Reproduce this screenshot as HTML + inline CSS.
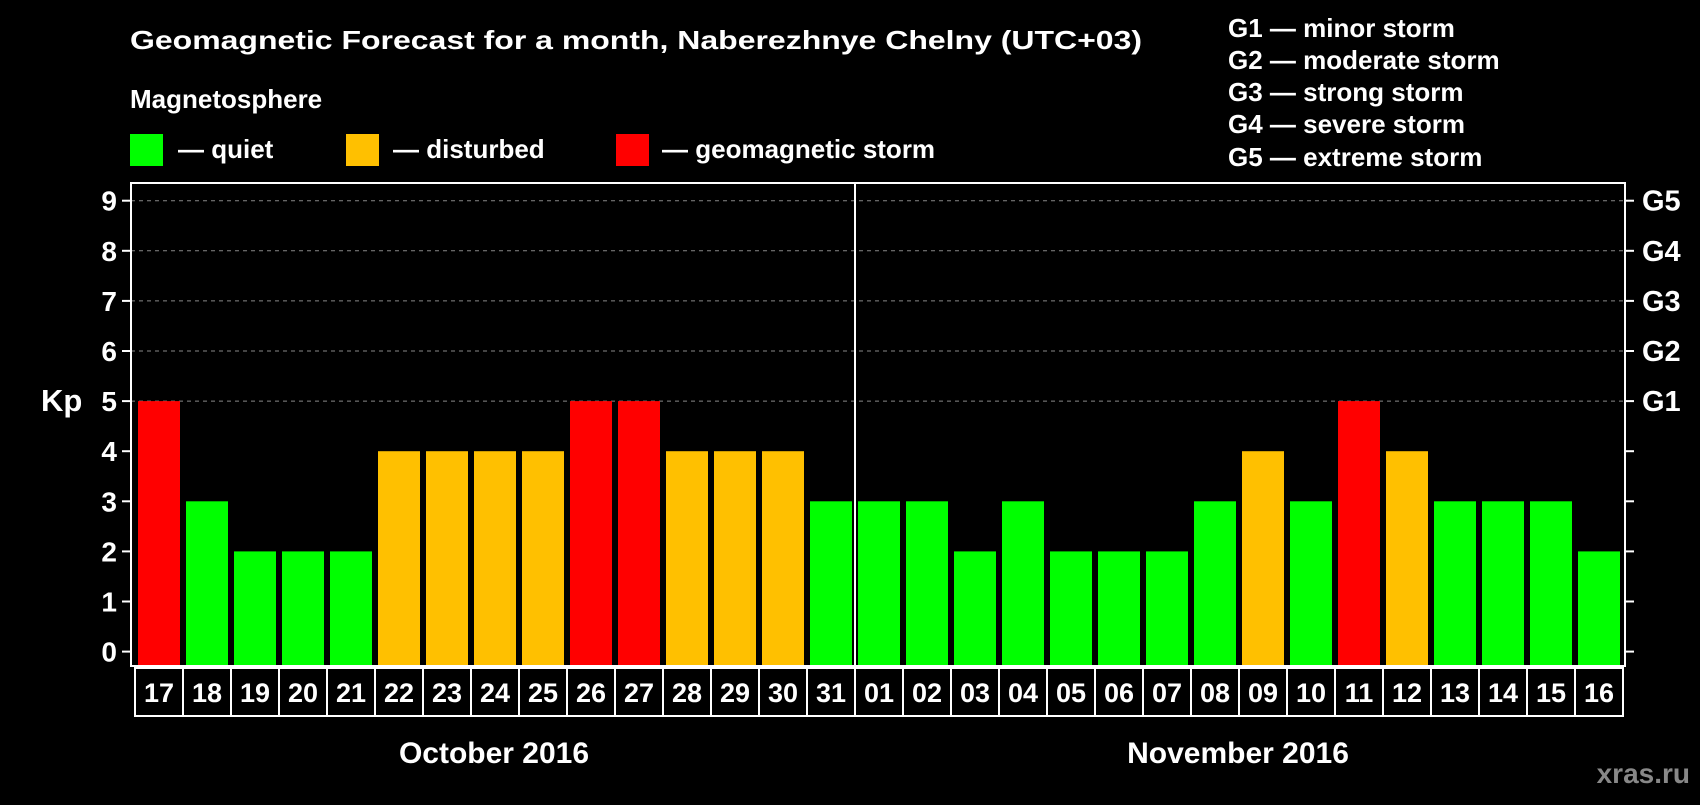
<!DOCTYPE html>
<html><head><meta charset="utf-8"><style>
body{margin:0;background:#000;}
svg text{font-family:"Liberation Sans",Arial,sans-serif;font-weight:bold;fill:#fff;}
</style></head><body>
<svg id="chart" width="1700" height="800" xmlns="http://www.w3.org/2000/svg">
<rect width="1700" height="800" fill="#000"/>
<text x="130" y="49" font-size="26" textLength="1012" lengthAdjust="spacingAndGlyphs">Geomagnetic Forecast for a month, Naberezhnye Chelny (UTC+03)</text>
<text x="130" y="108" font-size="26">Magnetosphere</text>
<rect x="130" y="134" width="33" height="32" fill="#00ff00"/>
<text x="178" y="158" font-size="26">— quiet</text>
<rect x="346" y="134" width="33" height="32" fill="#ffc000"/>
<text x="393" y="158" font-size="26">— disturbed</text>
<rect x="616" y="134" width="33" height="32" fill="#ff0000"/>
<text x="662" y="158" font-size="26">— geomagnetic storm</text>
<g font-size="26">
<text x="1228" y="37">G1 — minor storm</text>
<text x="1228" y="69">G2 — moderate storm</text>
<text x="1228" y="101">G3 — strong storm</text>
<text x="1228" y="133">G4 — severe storm</text>
<text x="1228" y="166">G5 — extreme storm</text>
</g>
<g id="grid"></g><g id="bars"></g><g id="axes"></g>
<text x="41" y="411" font-size="31">Kp</text>
<text x="494" y="763" font-size="30" text-anchor="middle">October 2016</text>
<text x="1238" y="763" font-size="30" text-anchor="middle">November 2016</text>
<text x="1690" y="783" font-size="28" text-anchor="end" style="fill:#888">xras.ru</text>
</svg>
<script>
const days=["17","18","19","20","21","22","23","24","25","26","27","28","29","30","31","01","02","03","04","05","06","07","08","09","10","11","12","13","14","15","16"];
const kp=[5,3,2,2,2,4,4,4,4,5,5,4,4,4,3,3,3,2,3,2,2,2,3,4,3,5,4,3,3,3,2];
const yTicks=[0,1,2,3,4,5,6,7,8,9];
const gLabels=["G1","G2","G3","G4","G5"];
const NS="http://www.w3.org/2000/svg";
const L=131,R=1625,T=183,B=666,X0=138,STEP=48,BW=42;
const y=v=>651.6-v*50.1;
const x=i=>X0+i*STEP;
function mk(t,a,p){const e=document.createElementNS(NS,t);for(const k in a)e.setAttribute(k,a[k]);p.appendChild(e);return e;}
const grid=document.getElementById('grid'),bars=document.getElementById('bars'),axes=document.getElementById('axes');
yTicks.forEach(v=>{
 if(v>=5){const g=mk('line',{x1:L,x2:R,y1:y(v),y2:y(v),stroke:'#888','stroke-dasharray':'4,4','stroke-width':1},grid);
 
 }
 mk('line',{x1:L-9,x2:L,y1:y(v),y2:y(v),stroke:'#fff','stroke-width':2},axes);
 mk('line',{x1:R,x2:R+9,y1:y(v),y2:y(v),stroke:'#fff','stroke-width':2},axes);
 const t=mk('text',{x:117,y:y(v)+10,'font-size':28,'text-anchor':'end'},axes);t.textContent=v;
 
 
});
gLabels.forEach((g,i)=>{const t=mk('text',{x:1642,y:y(5+i)+10,'font-size':29},axes);t.textContent=g;
 
 });
kp.forEach((v,i)=>{
 const c=v>=5?'#ff0000':v>=4?'#ffc000':'#00ff00';
 const r=mk('rect',{x:x(i),y:y(v),width:BW,height:B-1-y(v),fill:c},bars);
 
 
 const b=mk('rect',{x:x(i)-3,y:668,width:STEP,height:48,fill:'none',stroke:'#fff','stroke-width':2},axes);
 
 
 const t=mk('text',{x:x(i)+BW/2,y:702,'font-size':27,'text-anchor':'middle'},axes);t.textContent=days[i];
 
 
});
const f=mk('rect',{x:L,y:T,width:R-L,height:B-T,fill:'none',stroke:'#fff','stroke-width':2},axes);


const sep=mk('line',{x1:x(15)-3,x2:x(15)-3,y1:T,y2:B,stroke:'#fff','stroke-width':2},axes);


</script>
</body></html>
